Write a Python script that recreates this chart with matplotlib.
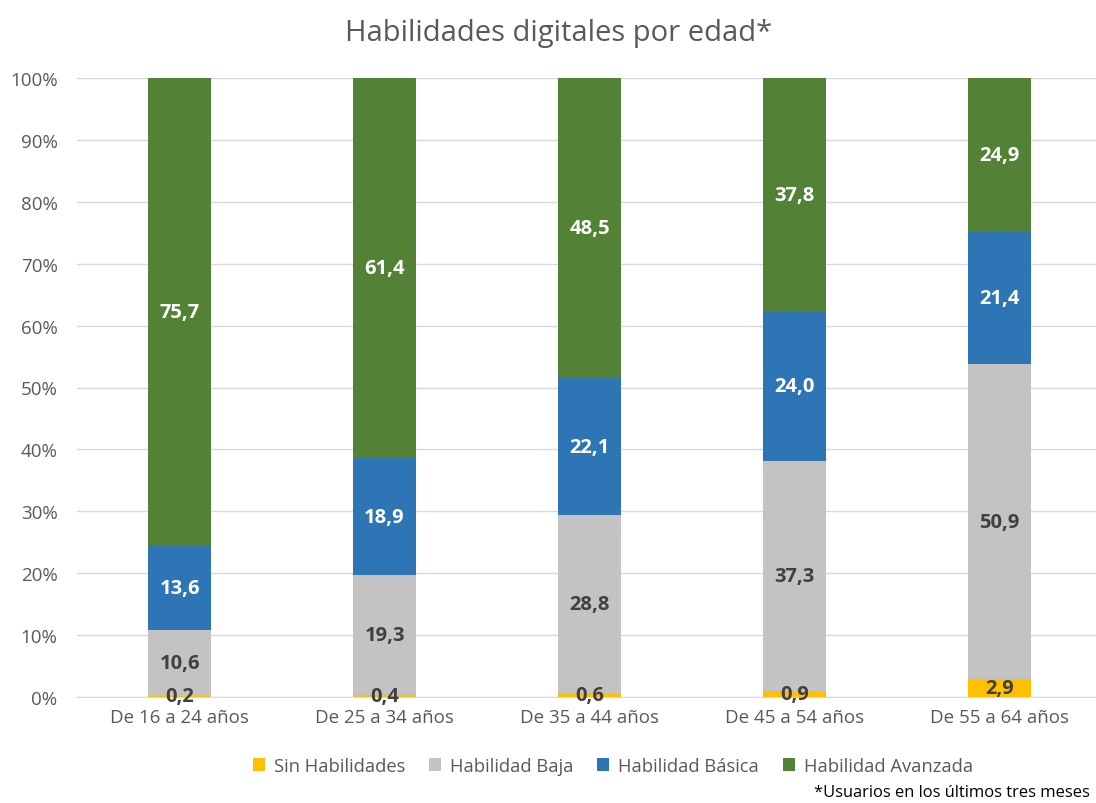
import numpy as np
import matplotlib
matplotlib.use("Agg")
import matplotlib.pyplot as plt
from matplotlib.ticker import PercentFormatter

plt.rcParams['font.family'] = ['Open Sans', 'DejaVu Sans']

# datos
grupos = ["De 16 a 24 años", "De 25 a 34 años", "De 35 a 44 años",
          "De 45 a 54 años", "De 55 a 64 años"]
series = ["Sin Habilidades", "Habilidad Baja", "Habilidad Básica", "Habilidad Avanzada"]
sin_hab = [0.2, 0.4, 0.6, 0.9, 2.9]
baja = [10.6, 19.3, 28.8, 37.3, 50.9]
basica = [13.6, 18.9, 22.1, 24.0, 21.4]
avanzada = [75.7, 61.4, 48.5, 37.8, 24.9]

colores = ["#FFC000", "#C3C3C3", "#2E75B6", "#538135"]
col_etiq = ["#404040", "#404040", "white", "white"]

valores = np.array([sin_hab, baja, basica, avanzada])
pct = valores / valores.sum(axis=0) * 100  # 100% apilado

fig = plt.figure(figsize=(10.96, 8.04), dpi=100)
ax = fig.add_axes([77 / 1096, 1 - 698 / 804, 1021 / 1096, 619 / 804])

x = np.arange(len(grupos))
base = np.zeros(len(grupos))
for i, nombre in enumerate(series):
    ax.bar(x, pct[i], 0.307, bottom=base, color=colores[i], label=nombre, zorder=2)
    for j in range(len(grupos)):
        txt = f"{valores[i, j]:.1f}".replace(".", ",")
        ax.text(x[j], base[j] + pct[i, j] / 2, txt, ha="center", va="center",
                color=col_etiq[i], fontsize=14.5, fontweight="bold", zorder=3)
    base += pct[i]

ax.set_xlim(-0.5, 4.48)
ax.set_ylim(0, 100)
ax.set_yticks(np.arange(0, 101, 10))
ax.yaxis.set_major_formatter(PercentFormatter(decimals=0))
ax.set_xticks(x)
ax.set_xticklabels(grupos)
ax.tick_params(axis="both", length=0, labelsize=13.5, colors="#595959")
ax.tick_params(axis="x", pad=8)
ax.tick_params(axis="y", pad=14)
ax.grid(axis="y", color="#D9D9D9", linewidth=1, zorder=0)
for s in ["top", "right", "left"]:
    ax.spines[s].set_visible(False)
ax.spines["bottom"].set_color("#D9D9D9")

fig.text(559 / 1096, 1 - 33 / 804, "Habilidades digitales por edad*", ha="center", va="center",
         fontsize=21, color="#595959")

leg = fig.legend(loc="center", bbox_to_anchor=(613 / 1096, 1 - 767 / 804), ncol=4,
                 frameon=False, fontsize=13.2, handlelength=0.65, handleheight=0.65,
                 handletextpad=0.5, columnspacing=1.3)
for t in leg.get_texts():
    t.set_color("#595959")

fig.text(1090 / 1096, 1 - 793 / 804, "*Usuarios en los últimos tres meses", ha="right",
         va="center", fontsize=11.9, color="black")

fig.savefig("out.png", dpi=100, facecolor="white")
